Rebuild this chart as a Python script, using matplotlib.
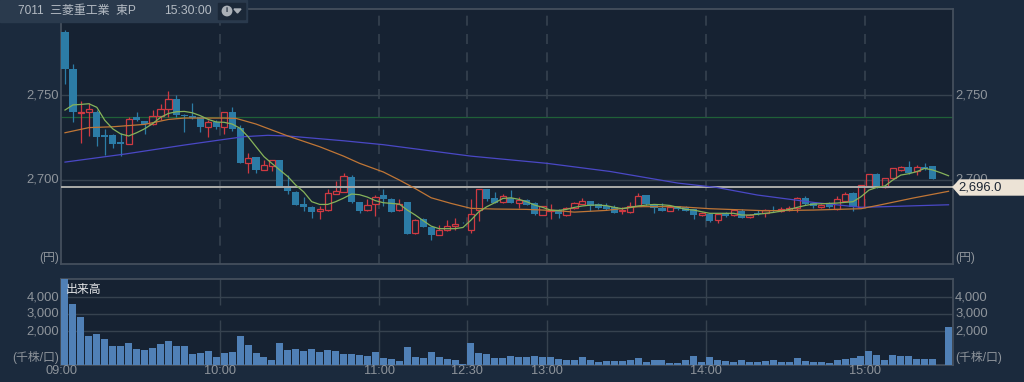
import numpy as np
import matplotlib
matplotlib.use('Agg')
import matplotlib.pyplot as plt
from matplotlib.patches import Rectangle, Polygon

plt.rcParams['font.family'] = ['Liberation Sans', 'Noto Sans CJK JP']

# ── 3-minute bars, bar 0 = 09:00 (nan = no trade) ────────────────────────────
nan = float('nan')
opens = [2786.5, 2765, 2739, 2740, 2740, 2726.5, 2726.4, 2722, 2721, 2737, 2734.6, 2733, 2737.7, 2741.8, 2747.3, 2738.3,
         2737.7, 2736.7, 2731, 2734, 2731, 2739.6, 2730.6, 2710, 2713.5, 2706, 2708, 2711.7, 2695.5, 2693, 2685.7, 2684.3,
         2681.6, 2682.4, 2692, 2693.2, 2701.5, 2687, 2682.4, 2685.7, 2691, 2688.9, 2682.4, 2687, 2668.7, 2677, 2672.4, 2668,
         2670.5, 2673.2, 2675, 2670.9, 2682.4, 2694.9, 2689.4, 2687, 2689.6, 2686.7, 2688.3, 2686.7, 2679.7, 2681.8, 2682.4, 2679.7,
         2683.4, 2686, 2687.9, 2686, 2684.8, 2684, 2681.6, 2681, 2685, 2691, 2686, 2683.8, 2682, 2684.8, 2684, 2682.8,
         2679.5, 2680, 2676.3, 2680.5, 2679.5, 2682, 2678.1, 2680.5, 2680.5, 2682.4, 2681.8, 2682.4, 2683.8, 2689.4, 2686.3, 2684.2,
         2686.3, 2682.8, 2688, 2692.2, 2684, 2696.7, 2703.3, 2695.7, 2701, 2706, 2707.8, 2705, 2707.4, 2708.2, nan, nan]
closes = [2765, 2740, 2740, 2741.4, 2725.4, 2725.5, 2721.3, 2721.3, 2736, 2735, 2733, 2737.5, 2741.8, 2747.3, 2738, 2737.7,
          2736.3, 2731, 2734, 2731, 2739.6, 2730, 2710, 2713, 2706, 2709, 2711.5, 2696, 2693.7, 2685.5, 2684, 2681,
          2682.8, 2692.4, 2693.3, 2702.3, 2687, 2682, 2685.5, 2690, 2688.7, 2681.4, 2686, 2668.5, 2676.5, 2672.4, 2667.5, 2671,
          2673, 2674, 2674.8, 2680, 2694.9, 2689, 2686.5, 2690.4, 2686.5, 2688.3, 2685.3, 2679.9, 2684.7, 2682.4, 2679.9, 2683.8,
          2686.3, 2687.9, 2685, 2683.6, 2682.8, 2680.9, 2682.2, 2685, 2690.8, 2686, 2683.4, 2681.8, 2684, 2682.8, 2682, 2679.5,
          2680.5, 2676.2, 2679.9, 2678.9, 2682.4, 2677.9, 2679.3, 2680, 2682.4, 2681.8, 2683.2, 2683.8, 2689.4, 2685.9, 2684.8, 2685.3,
          2684, 2688.7, 2691.6, 2684, 2696.9, 2703.3, 2695.7, 2701, 2706.8, 2707.6, 2703.9, 2707.8, 2706.6, 2700.6, nan, nan]
highs = [2788, 2768, 2746.5, 2745, 2741, 2730, 2726.8, 2727.7, 2737, 2740, 2734.8, 2741, 2744.5, 2752, 2750, 2738.7,
         2745, 2737, 2735, 2735, 2740, 2742.6, 2732, 2715.6, 2713.7, 2712, 2712, 2712, 2703, 2693.6, 2690, 2684.8,
         2684.7, 2694.7, 2699.4, 2704.3, 2702.7, 2687, 2688.7, 2691, 2695, 2689.2, 2688.7, 2687, 2677, 2678, 2672.4, 2673.6,
         2676.3, 2677.5, 2675.2, 2688.9, 2695, 2695, 2692.8, 2692, 2694, 2690.2, 2688.6, 2687.1, 2685, 2685.9, 2682.8, 2684.4,
         2687.1, 2689.2, 2688, 2686.5, 2686.7, 2685.3, 2684, 2686.9, 2692.6, 2691, 2686, 2686.3, 2685.5, 2685, 2685, 2683,
         2681, 2680.5, 2680.2, 2681, 2683, 2683, 2680, 2682.4, 2683, 2684.8, 2684.4, 2684.5, 2690, 2690.6, 2687, 2686,
         2687, 2690.6, 2692.8, 2693, 2697, 2703.6, 2704.3, 2701.2, 2707, 2708.2, 2711.3, 2708.8, 2709.8, 2708.5, nan, nan]
lows = [2756.5, 2734, 2721.5, 2726, 2720, 2714.6, 2718.5, 2714, 2721, 2734.8, 2727, 2732, 2735, 2737, 2737, 2728,
        2736, 2728, 2725, 2730, 2727, 2729, 2710, 2704, 2704, 2705.8, 2705, 2695.7, 2691.8, 2685.3, 2682, 2678,
        2677.3, 2682, 2691.8, 2692.8, 2686.8, 2680.8, 2681.8, 2679, 2684.8, 2681, 2681.8, 2668.5, 2668.3, 2672.2, 2664.6, 2667.5,
        2670.2, 2671, 2674.6, 2668.7, 2676, 2688, 2686.3, 2686.7, 2686.3, 2683.4, 2685.1, 2679.5, 2679.3, 2677, 2677.5, 2679,
        2683.2, 2685.9, 2681.8, 2683.2, 2682.4, 2680.5, 2680, 2680.5, 2684.8, 2685.3, 2680.5, 2681.6, 2681.8, 2682.4, 2681.8, 2677,
        2679, 2675.6, 2675, 2678.5, 2679, 2677.5, 2677.5, 2679.5, 2678.5, 2681.4, 2681.4, 2682, 2681, 2685.5, 2683.8, 2683.8,
        2683.8, 2682.6, 2687.8, 2681.8, 2683.8, 2696.4, 2695.5, 2695.5, 2700.5, 2705, 2703.5, 2702.9, 2706, 2700.4, nan, nan]

volume = [5100, 3570, 2800, 1690, 1840, 1530, 1120, 1120, 1310, 960, 860, 1020, 1220, 1430, 1120, 1120,
          670, 725, 820, 450, 705, 765, 1725, 1180, 705, 450, 315, 1310, 860, 920, 800, 960,
          765, 860, 820, 670, 670, 610, 510, 765, 410, 350, 255, 1080, 450, 390, 765, 450,
          350, 315, 60, 1310, 705, 650, 410, 410, 550, 450, 450, 510, 470, 450, 350, 315,
          315, 450, 315, 195, 255, 255, 255, 315, 410, 195, 315, 315, 135, 135, 315, 510,
          195, 450, 315, 255, 195, 315, 195, 195, 255, 315, 195, 195, 410, 255, 195, 195,
          135, 315, 350, 410, 510, 820, 570, 315, 570, 510, 510, 350, 350, 350, 0, 2235]

# ── moving averages ──────────────────────────────────────────────────────────
ma_short = [2741, 2744, 2744.3, 2744.7, 2742.6, 2735, 2730, 2727, 2725.8, 2727.7, 2730, 2733, 2736.7, 2739, 2740, 2740.2,
            2739.4, 2737.7, 2735.5, 2734, 2733.8, 2732.8, 2730.3, 2725.4, 2719.5, 2713.7, 2709.7, 2705.8, 2702, 2697, 2693, 2687.3,
            2685.7, 2685.7, 2687.3, 2689.4, 2691.8, 2691.4, 2690, 2687.9, 2686.7, 2686.3, 2685.9, 2682.4, 2679.5, 2676.2, 2673, 2671.5,
            2671.5, 2671.5, 2672.2, 2676.5, 2681.4, 2684.4, 2686.7, 2689.2, 2689.6, 2688.7, 2687.3, 2685.3, 2684, 2682.4, 2682.2, 2682.8,
            2684, 2684.8, 2685.3, 2685.3, 2685, 2684, 2683.2, 2684, 2684.8, 2685.3, 2685.7, 2685.5, 2685.1, 2684, 2682.8, 2682.4,
            2681.4, 2680.5, 2680.5, 2680.5, 2680.5, 2679.5, 2679.5, 2679.9, 2680.5, 2681, 2681.8, 2682.8, 2684, 2685.1, 2685.9, 2686.1,
            2686.3, 2686.5, 2686.9, 2687.3, 2690.2, 2694.1, 2695.7, 2696.5, 2700, 2702.9, 2703.7, 2704.9, 2706.8, 2705.9, 2704.3, 2702.5]
mid_x = [0, 3, 6, 10, 13, 15, 20, 21.5, 24, 28, 32, 35, 37, 40, 42, 44, 46, 48.5, 51, 54, 58, 62, 64, 68, 72, 77, 81, 88, 94, 100, 102.5, 106.5, 111]
ma_mid = [2727.7, 2730.7, 2731.2, 2732.6, 2735.5, 2736.3, 2736.3, 2736.1, 2732.8, 2725.8, 2719.5, 2714, 2709.8, 2704.7, 2700, 2695, 2689.6, 2686.3,
          2683.4, 2683, 2682.8, 2682, 2681.2, 2682.2, 2684.4, 2684.4, 2683.2, 2682, 2682.4, 2683.2, 2685.5, 2689.4, 2693.4]
long_x = [0, 7.5, 15, 20, 22.5, 25.5, 28, 35, 40, 51, 60.5, 68.5, 77, 81.8, 87, 94, 100, 104.5, 111]
ma_long = [2710.5, 2715.2, 2720.5, 2723.8, 2725.4, 2726.2, 2725.8, 2723, 2720.7, 2714, 2709.8, 2705, 2698.2, 2695.7, 2691.2, 2686.9, 2684, 2684.6, 2685.5]

prev_close = 2696
upper_level = 2737
price_ticks = [2700, 2750]
vol_ticks = [2000, 3000, 4000]
# bar index of each time label (the lunch break is squeezed out)
time_pos = [0, 20, 40, 51, 61, 81, 101]
time_labels = ['09:00', '10:00', '11:00', '12:30', '13:00', '14:00', '15:00']

BG = '#1b2a3d'
PANEL = '#162232'
FRAME = '#444f5d'
GRID = '#36424f'
LABEL = '#8e949b'
CANDLE_BLUE = '#2c7ca6'
CANDLE_RED = '#cf3a42'

W, H = 1024, 382


def fx(px):
    return px / W


def fy(py):
    return 1 - py / H


def panel(left, top, right, bottom):
    ax = fig.add_axes([fx(left), fy(bottom), fx(right - left), (bottom - top) / H])
    ax.set_facecolor(PANEL)
    ax.set_xticks([]); ax.set_yticks([])
    for s in ax.spines.values():
        s.set_color(FRAME); s.set_linewidth(1.3)
    ax.set_xlim(-0.5, 111.56)
    return ax


def label(px, py, s, ha='left', color=LABEL, size=9.4, **kw):
    fig.text(fx(px), fy(py + 1), s, ha=ha, va='center', color=color, fontsize=size, **kw)


fig = plt.figure(figsize=(W / 100, H / 100), dpi=100, facecolor=BG)

# ── price panel ──────────────────────────────────────────────────────────────
ax = panel(61, 9, 953, 264)
ax.set_ylim(2650.8, 2800.2)
for p in price_ticks:
    ax.axhline(p, color=GRID, lw=1, zorder=1)
ax.axhline(upper_level, color='#1f6038', lw=0.9, zorder=1)
for i in time_pos[1:]:
    ax.axvline(i - 0.5, color='#36424f', lw=1.2, ls=(0, (6, 5)), zorder=1)

o = np.array(opens); c = np.array(closes); hi = np.array(highs); lo = np.array(lows)
xs = np.arange(len(o))
up = c >= o
down = c < o
ax.vlines(xs[down], lo[down], hi[down], color=CANDLE_BLUE, lw=0.9, zorder=2)
ax.bar(xs[down], (o - c)[down], bottom=c[down], width=0.9, color=CANDLE_BLUE, zorder=3)
ax.vlines(xs[up], lo[up], o[up], color=CANDLE_RED, lw=0.9, zorder=2)
ax.vlines(xs[up], c[up], hi[up], color=CANDLE_RED, lw=0.9, zorder=2)
ax.bar(xs[up], (c - o)[up], bottom=o[up], width=0.78, facecolor='none', edgecolor=CANDLE_RED, lw=0.9, zorder=3)

ax.axhline(prev_close, color='#adadaa', lw=1.4, zorder=4)
ax.plot(long_x, ma_long, color='#4a48c6', lw=0.9, zorder=5)
ax.plot(mid_x, ma_mid, color='#c07636', lw=0.9, zorder=5)
ax.plot(xs, ma_short, color='#86b35a', lw=0.9, zorder=6)

# ── volume panel ─────────────────────────────────────────────────────────────
vx = panel(61, 278.5, 953, 365)
vx.set_ylim(0, 5060)
for v in vol_ticks:
    vx.axhline(v, color=GRID, lw=1, zorder=1)
for i in time_pos[1:]:
    vx.vlines(i - 0.5, 0, 2650, color=GRID, lw=1, zorder=1)
    vx.vlines(i - 0.5, 3500, 5060, color=GRID, lw=1, zorder=1)
vx.bar(np.arange(len(volume)), volume, width=0.88, color='#5080b6', zorder=3)

# ── text ─────────────────────────────────────────────────────────────────────
for p, y in zip(['2,750', '2,700'], [94, 179]):
    label(59, y, p, ha='right')
    label(955, y, p)
label(59, 257, '(円)', ha='right', size=8.6)
label(955, 257, '(円)', size=8.6)
for s, y in zip(['4,000', '3,000', '2,000'], [296, 313, 330]):
    label(59, y, s, ha='right')
    label(955, y, s)
label(59, 357, '(千株/口)', ha='right', size=8.6)
label(955, 357, '(千株/口)', size=8.6)
label(66, 289, '出来高', color='#e2e4e6', size=8.6)
for i, s in zip(time_pos, time_labels):
    label(61 + 7.96 * i, 370, s, ha='center', size=9.2)

# header block
fig.add_artist(Rectangle((0, fy(22)), fx(247), 22 / H, transform=fig.transFigure, color='#2a3a4d', zorder=10))
fig.add_artist(Rectangle((fx(218), fy(19)), fx(27), 16 / H, transform=fig.transFigure, color='#1b2838', zorder=11))
fig.text(fx(18), fy(11), '7011  三菱重工業  東P', color='#b4bbc3', fontsize=8.6, va='center', zorder=12)
fig.text(fx(164), fy(11), '15:30:00', color='#b4bbc3', fontsize=8.8, va='center', zorder=12)
fig.text(fx(227), fy(11), 'i', color='#1b2838', fontsize=5.5, ha='center', va='center', weight='bold', zorder=13,
         bbox=dict(boxstyle='circle,pad=0.25', fc='#aab0b7', ec='none'))
fig.add_artist(Polygon([(fx(234), fy(9)), (fx(241), fy(9)), (fx(237.5), fy(13))], closed=True,
                       transform=fig.transFigure, color='#aab0b7', zorder=13))

# last-price tag on the right
fig.add_artist(Polygon([(fx(953), fy(187)), (fx(960), fy(180)), (fx(1024), fy(180)), (fx(1024), fy(195)), (fx(960), fy(195))],
                       closed=True, transform=fig.transFigure, color='#ece3d6', zorder=10))
fig.text(fx(958), fy(188), '2,696.0', color='#1b2533', fontsize=9.4, va='center', zorder=11)

fig.savefig('out.png', dpi=100, facecolor=BG)
